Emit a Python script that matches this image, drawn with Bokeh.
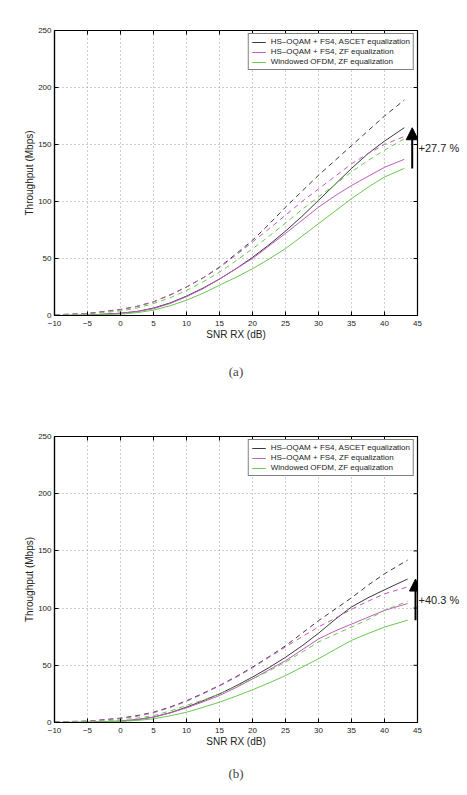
from bokeh.plotting import figure
from bokeh.layouts import column
from bokeh.models import (LinearAxis, Legend, LegendItem, Arrow, NormalHead,
                          Title, Range1d, FixedTicker)
from bokeh.embed import file_html
from bokeh.resources import INLINE

# SNR axis (dB)
snr_a = [-10, -5, 0, 2.5, 5, 7.5, 10, 12.5, 15, 17.5, 20, 22.5, 25, 27.5, 30, 32.5, 35, 37.5, 40, 43]
snr_b = [-10, -5, 0, 2.5, 5, 7.5, 10, 12.5, 15, 17.5, 20, 22.5, 25, 27.5, 30, 32.5, 35, 37.5, 40, 43.5]

# Panel (a) throughput, Mbps (solid: measured, dashed: reference)
a_ascet = [0, 0.3, 2, 3.5, 6.5, 11, 17, 24, 32, 41, 51, 62, 74, 87, 101, 115, 129, 142, 153, 164.7]
a_ascet_d = [0.6, 1.8, 5.3, 8, 12, 18, 25, 33, 42.5, 54, 66, 80, 95, 109, 123, 136, 149, 162, 175, 189]
a_zf = [0, 0.3, 2, 3.5, 6, 10.5, 16.5, 23.5, 32, 41, 50, 61, 72, 83.5, 95, 105, 114, 122, 130, 137]
a_zf_d = [0.6, 1.8, 5, 8, 12, 18, 25, 33, 42, 53, 64.5, 76, 88, 100, 111, 122, 133, 142, 150, 157]
a_ofdm = [0, 0.2, 1.2, 2.5, 4.7, 8.5, 13.4, 19.5, 26.6, 33.5, 41, 49.5, 58.7, 69.5, 80.6, 91.5, 102.5, 112.5, 121.5, 129.0]
a_ofdm_d = [0.3, 1.2, 4, 6.5, 10.5, 15.5, 22, 29.5, 38, 48, 58.5, 69.5, 81, 93, 104, 115, 126, 136, 145, 155]

# Panel (b) throughput, Mbps
b_ascet = [0, 0.2, 1.2, 2.5, 4.7, 8.5, 13.4, 19, 25, 32, 39.7, 48, 57, 67, 78, 90, 101, 109, 116, 125.4]
b_ascet_d = [0.6, 1.2, 3.8, 6, 9, 13.5, 19, 25.5, 32.4, 40, 48.4, 57.5, 67, 78, 89, 99, 109, 120, 130, 142]
b_zf = [0, 0.2, 1.2, 2.5, 4.7, 8.3, 12.8, 18, 23.6, 30.5, 38, 46, 54, 63.5, 73, 80, 86, 92, 98, 104]
b_zf_d = [0.6, 1.2, 3.5, 5.5, 8.5, 13, 18.5, 25, 32, 39.5, 47.8, 57, 66, 75, 83.5, 91, 99, 106, 112.5, 118.5]
b_ofdm = [0, 0.1, 0.9, 1.8, 3.2, 5.8, 9, 13.2, 17.8, 23, 28.6, 34.6, 41, 48.3, 55.7, 63.8, 71.8, 77.8, 83.4, 89.4]
b_ofdm_d = [0.3, 0.8, 2.3, 3.8, 6, 10, 15, 19.5, 25, 31.5, 38.2, 45, 52.8, 61.5, 70.3, 77, 83.4, 90, 98, 106]

series_names = ["HS\u2013OQAM + FS4, ASCET equalization",
                "HS\u2013OQAM + FS4, ZF equalization",
                "Windowed OFDM, ZF equalization"]
x_ticks = [-10, -5, 0, 5, 10, 15, 20, 25, 30, 35, 40, 45]
x_tick_labels = ["\u221210", "\u22125", "0", "5", "10", "15", "20", "25", "30", "35", "40", "45"]
y_ticks = [0, 50, 100, 150, 200, 250]

COLORS = ["#3a3a3a", "#c05cc0", "#6cc850"]
FONT = "Liberation Sans"
X_LO, X_HI, Y_LO, Y_HI = -10, 45, 0, 250


def style_axis(ax, ticks):
    ax.ticker = FixedTicker(ticks=ticks)
    ax.major_tick_in = 4
    ax.major_tick_out = 0
    ax.minor_tick_in = 0
    ax.minor_tick_out = 0
    ax.axis_line_color = "black"
    ax.axis_line_width = 1.2
    ax.major_tick_line_color = "black"
    ax.major_label_text_font = FONT
    ax.major_label_text_font_size = "8px"
    ax.major_label_text_color = "#222222"
    ax.major_label_standoff = 3
    ax.axis_label_text_font = FONT
    ax.axis_label_text_font_size = "10px"
    ax.axis_label_text_font_style = "normal"
    ax.axis_label_text_color = "#222222"
    ax.axis_label_standoff = 0


def panel(x, ascet, ascet_d, zf, zf_d, ofdm, ofdm_d, caption, top, height, bottom, cap_off):
    p = figure(width=467, height=height, output_backend="svg", toolbar_location=None,
               x_range=Range1d(X_LO, X_HI), y_range=Range1d(Y_LO, Y_HI),
               min_border_left=54, min_border_right=50, min_border_top=top,
               min_border_bottom=bottom, x_axis_label="SNR RX (dB)",
               y_axis_label="Throughput (Mbps)")
    p.background_fill_color = "white"
    p.border_fill_color = "white"
    p.outline_line_color = "black"
    p.outline_line_width = 1.2
    for ax in p.xaxis:
        style_axis(ax, x_ticks)
        ax.major_label_overrides = dict(zip(x_ticks, x_tick_labels))
        ax.major_label_standoff = 5
    for ax in p.yaxis:
        style_axis(ax, y_ticks)

    for g in p.xgrid:
        g.ticker = FixedTicker(ticks=x_ticks)
    for g in p.ygrid:
        g.ticker = FixedTicker(ticks=y_ticks)
    for g in p.grid:
        g.grid_line_color = "#9a9a9a"
        g.grid_line_dash = "1 3"
        g.grid_line_width = 1

    # inward tick marks along the top and right edges of the box
    tx = 4 * (X_HI - X_LO) / 363
    ty = 4 * (Y_HI - Y_LO) / 286
    p.segment(x0=x_ticks, y0=[Y_HI] * len(x_ticks), x1=x_ticks, y1=[Y_HI - ty] * len(x_ticks),
              line_color="black", line_width=1)
    p.segment(x0=[X_HI] * len(y_ticks), y0=y_ticks, x1=[X_HI - tx] * len(y_ticks), y1=y_ticks,
              line_color="black", line_width=1)

    solids = [ascet, zf, ofdm]
    dashes = [ascet_d, zf_d, ofdm_d]
    items = []
    for c, ys, yd, name in zip(COLORS, solids, dashes, series_names):
        p.line(x, yd, line_color=c, line_width=1, line_dash="5 4")
        r = p.line(x, ys, line_color=c, line_width=1)
        items.append(LegendItem(label=name, renderers=[r]))

    legend = Legend(items=items, location="top_right")
    legend.label_text_font = FONT
    legend.label_text_font_size = "8px"
    legend.label_text_color = "#222222"
    legend.label_height = 8
    legend.glyph_height = 8
    legend.glyph_width = 14
    legend.label_standoff = 5
    legend.spacing = 1
    legend.padding = 3
    legend.margin = 3
    legend.border_line_color = "black"
    legend.border_line_width = 1
    legend.background_fill_alpha = 1
    p.add_layout(legend)

    # gain of the ASCET receiver over windowed OFDM at the highest SNR
    x_arrow = x[-1] + 1.2
    p.add_layout(Arrow(x_start=x_arrow, y_start=ofdm[-1], x_end=x_arrow, y_end=ascet[-1],
                       line_width=2, line_color="black",
                       end=NormalHead(size=12, fill_color="black", line_color="black")))
    gain = (ascet[-1] / ofdm[-1] - 1) * 100
    y_mid = (ascet[-1] + ofdm[-1]) / 2
    gain_ax = LinearAxis(ticker=FixedTicker(ticks=[y_mid]),
                         major_label_overrides={y_mid: f"+{gain:.1f} %"})
    gain_ax.axis_line_color = None
    gain_ax.major_tick_line_color = None
    gain_ax.minor_tick_line_color = None
    gain_ax.major_tick_in = 0
    gain_ax.major_tick_out = 0
    gain_ax.major_label_standoff = 1
    gain_ax.major_label_text_font = FONT
    gain_ax.major_label_text_font_size = "11px"
    gain_ax.major_label_text_color = "#222222"
    p.add_layout(gain_ax, "right")

    p.add_layout(Title(text=caption, align="center", text_font="Liberation Serif",
                       text_font_size="13px", text_font_style="normal",
                       standoff=cap_off), "below")
    return p


pa = panel(snr_a, a_ascet, a_ascet_d, a_zf, a_zf_d, a_ofdm, a_ofdm_d, "(a)", 30, 398, 83, 38)
pb = panel(snr_b, b_ascet, b_ascet_d, b_zf, b_zf_d, b_ofdm, b_ofdm_d, "(b)", 38, 397, 73, 28)

layout = column(pa, pb, spacing=0)
open("out.html", "w").write(file_html(layout, INLINE))
